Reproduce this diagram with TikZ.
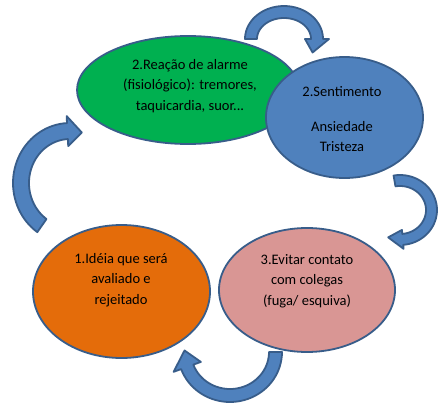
\documentclass[tikz,border=0pt]{standalone}
\usepackage{fontspec}
\setmainfont{Carlito}
\usetikzlibrary{shapes.geometric}
\definecolor{edgeblue}{HTML}{385D8A}
\definecolor{gfill}{HTML}{00B050}
\definecolor{bfill}{HTML}{4F81BD}
\definecolor{ofill}{HTML}{E46C0A}
\definecolor{pfill}{HTML}{D99694}
% curved block arrow: cx cy rx ry width startangle endangle tipangle headextra
\newcommand{\carrow}[9]{%
  \filldraw[blockarrow]
    plot[domain=#6:#7, samples=40] ({#1+#3*cos(\x)},{#2+#4*sin(\x)})
    -- ({#1+(#3+#9)*cos(#7)},{#2+(#4+#9)*sin(#7)})
    -- ({#1+(#3-#5/2)*cos(#8)},{#2+(#4-#5/2)*sin(#8)})
    -- ({#1+(#3-#5-#9)*cos(#7)},{#2+(#4-#5-#9)*sin(#7)})
    -- plot[domain=#7:#6, samples=40] ({#1+(#3-#5)*cos(\x)},{#2+(#4-#5)*sin(\x)})
    -- cycle;}
\begin{document}
\begin{tikzpicture}[x=1pt,y=-1pt,
  bubble/.style={ellipse, draw=edgeblue, line width=1.8pt, inner sep=0pt},
  labeltext/.style={align=center, inner sep=0pt, font=\fontsize{14.5}{20.5}\selectfont},
  blockarrow/.style={fill=bfill, draw=edgeblue, line width=1.8pt, line join=round}]
\fill[white] (0,0) rectangle (440,410);
\useasboundingbox (0,0) rectangle (440,410);
% arrows
\carrow{284}{39}{39}{33}{12}{180}{360}{390}{6}
\carrow{400}{210}{37}{35}{11}{-100}{85}{112}{4}
\carrow{230}{352}{52}{50}{13}{0}{160}{182}{8}
\carrow{70}{183}{57}{60}{16}{125}{267}{284}{7}
% ellipses
\node[bubble, fill=ofill, minimum width=177pt, minimum height=133pt] (idea) at (121.5,291.5) {};
\node[bubble, fill=pfill, minimum width=176pt, minimum height=124pt] (avoid) at (307,290) {};
\node[bubble, fill=gfill, minimum width=222pt, minimum height=108pt] (alarm) at (188,90) {};
\node[bubble, fill=bfill, minimum width=157pt, minimum height=121pt] (feel) at (344.5,117.5) {};
% texts
\node[labeltext] (alarmtext) at (190,86) {2.Reação de alarme\\(fisiológico): tremores,\\taquicardia, suor...};
\node[labeltext] (feeltext) at (342,119.5) {2.Sentimento\\[14pt]Ansiedade\\Tristeza};
\node[labeltext] (ideatext) at (121,280) {1.Idéia que será\\avaliado e\hspace*{14pt}\\rejeitado};
\node[labeltext] (avoidtext) at (307,281) {3.Evitar contato\\com colegas\\(fuga/ esquiva)};
\end{tikzpicture}
\end{document}
